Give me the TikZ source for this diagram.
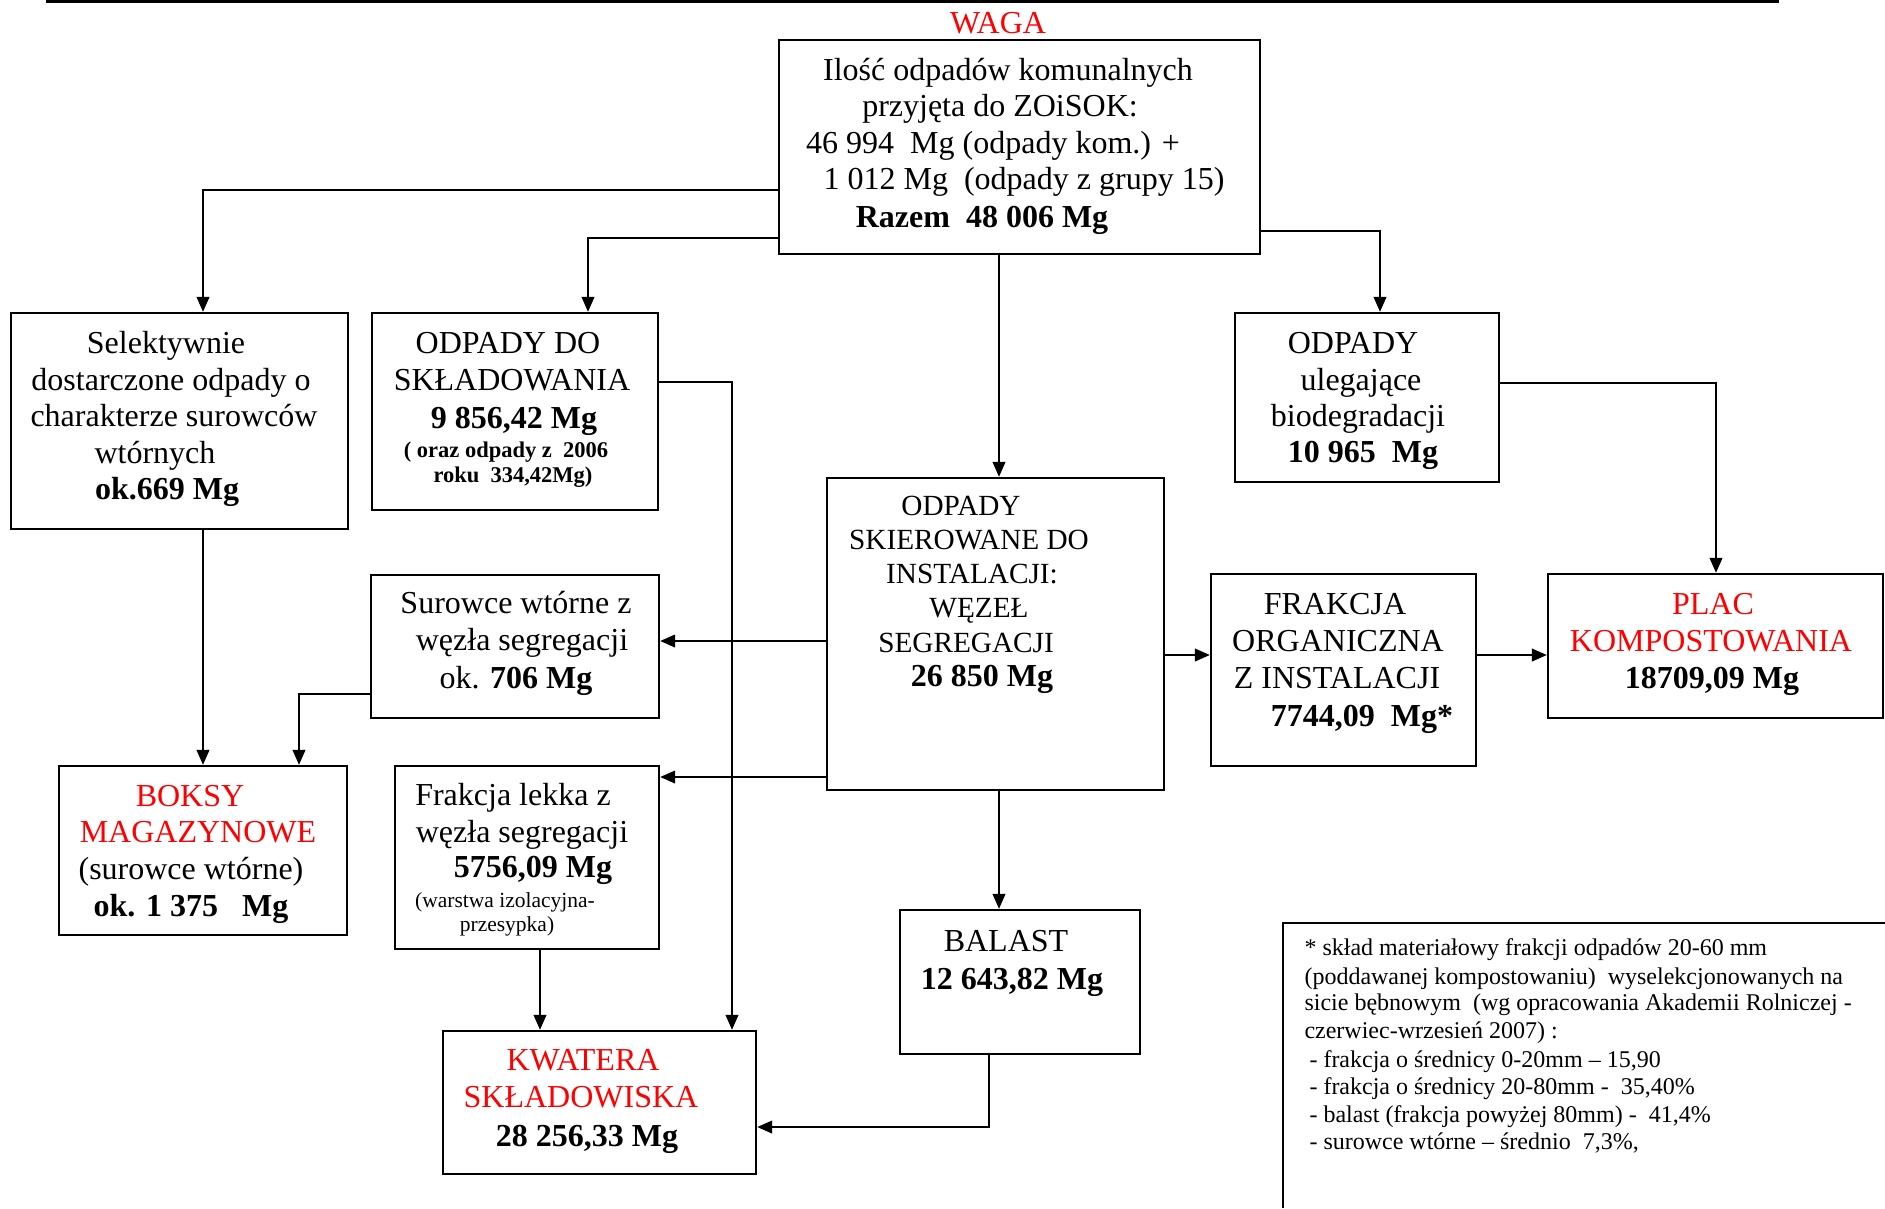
\documentclass[tikz,border=0pt]{standalone}
\usepackage{fontspec}
\setmainfont{Liberation Serif}
\usetikzlibrary{arrows.meta,fit}
\tikzset{
  box/.style={draw, line width=0.9pt, inner sep=0pt},
  txt/.style={anchor=base, inner sep=0pt, font=\fontsize{12.8}{14}\selectfont},
  stxt/.style={anchor=base, inner sep=0pt, font=\fontsize{11.7}{13}\selectfont},
  smalltxt/.style={anchor=base, inner sep=0pt, font=\fontsize{9}{10}\selectfont},
  lighttxt/.style={anchor=base, inner sep=0pt, font=\fontsize{8.6}{10}\selectfont},
  note/.style={anchor=base west, inner sep=0pt, font=\fontsize{9.6}{11}\selectfont},
  redtxt/.style={text=red},
  conn/.style={line width=0.9pt},
  arr/.style={conn, -{Triangle[length=6pt,width=5pt]}},
}
\begin{document}
\begin{tikzpicture}[x=0.4pt,y=-0.4pt]
\useasboundingbox (0,0) rectangle (1885,1208);
\fill[black] (46,0) rectangle (1779,2.5);

% boxes
\node[box, fit={(779,40) (1260,254)}] (top) {};
\node[box, fit={(11,313) (348,529)}] (sel) {};
\node[box, fit={(372,313) (658,510)}] (skl) {};
\node[box, fit={(1235,313) (1499,482)}] (ul) {};
\node[box, fit={(827,478) (1164,790)}] (ins) {};
\node[box, fit={(371,575) (659,718)}] (sur) {};
\node[box, fit={(1211,574) (1476,766)}] (fo) {};
\node[box, fit={(1548,574) (1883,718)}] (plac) {};
\node[box, fit={(59,766) (347,935)}] (boks) {};
\node[box, fit={(395,766) (659,949)}] (fl) {};
\node[box, fit={(900,910) (1140,1054)}] (bal) {};
\node[box, fit={(443,1031) (756,1174)}] (kw) {};
\draw[conn] (1283,1208) -- (1283,923) -- (1885,923);

% texts
\node[txt,redtxt] (waga) at (998,33) {WAGA};

\node[txt] (t1) at (1008,80) {Ilość odpadów komunalnych};
\node[txt] (t2) at (1000,116) {przyjęta do ZOiSOK:};
\node[txt] (t3) at (993,153) {46 994\ \ Mg (odpady kom.) +};
\node[txt] (t4) at (1024,189) {1 012 Mg\ \ (odpady z grupy 15)};
\node[txt] (t5) at (982,227) {\textbf{Razem\ \ 48 006 Mg}};

\node[txt] (s1) at (166,353) {Selektywnie};
\node[txt] (s2) at (171,390) {dostarczone odpady o};
\node[txt] (s3) at (174,426) {charakterze surowców};
\node[txt] (s4) at (155,463) {wtórnych};
\node[txt] (s5) at (167,499) {\textbf{ok.669 Mg}};

\node[txt] (k1) at (508,353) {ODPADY DO};
\node[txt] (k2) at (512,390) {SKŁADOWANIA};
\node[txt] (k3) at (514,428) {\textbf{9 856,42 Mg}};
\node[smalltxt] (k4) at (506,457) {\textbf{( oraz odpady z\ \ 2006}};
\node[smalltxt] (k5) at (513,482) {\textbf{roku\ \ 334,42Mg)}};

\node[txt] (u1) at (1353,353) {ODPADY};
\node[txt] (u2) at (1361,390) {ulegające};
\node[txt] (u3) at (1358,426) {biodegradacji};
\node[txt] (u4) at (1363,462) {\textbf{10 965\ \ Mg}};

\node[stxt] (i1) at (961,515) {ODPADY};
\node[stxt] (i2) at (969,549) {SKIEROWANE DO};
\node[stxt] (i3) at (972,583) {INSTALACJI:};
\node[stxt] (i4) at (979,617) {WĘZEŁ};
\node[stxt] (i5) at (966,652) {SEGREGACJI};
\node[txt] (i6) at (982,686) {\textbf{26 850 Mg}};

\node[txt] (r1) at (516,613) {Surowce wtórne z};
\node[txt] (r2) at (522,650) {węzła segregacji};
\node[txt] (r3) at (516,688) {ok. \textbf{706 Mg}};

\node[txt] (o1) at (1335,614) {FRAKCJA};
\node[txt] (o2) at (1338,651) {ORGANICZNA};
\node[txt] (o3) at (1337,688) {Z INSTALACJI};
\node[txt] (o4) at (1362,726) {\textbf{7744,09\ \ Mg*}};

\node[txt,redtxt] (c1) at (1713,614) {PLAC};
\node[txt,redtxt] (c2) at (1711,651) {KOMPOSTOWANIA};
\node[txt] (c3) at (1712,688) {\textbf{18709,09 Mg}};

\node[txt,redtxt] (b1) at (190,806) {BOKSY};
\node[txt,redtxt] (b2) at (198,842) {MAGAZYNOWE};
\node[txt] (b3) at (191,879) {(surowce wtórne)};
\node[txt] (b4) at (191,916) {\textbf{ok. 1 375\ \ \ Mg}};

\node[txt] (f1) at (513,805) {Frakcja lekka z};
\node[txt] (f2) at (522,842) {węzła segregacji};
\node[txt] (f3) at (533,877) {\textbf{5756,09 Mg}};
\node[lighttxt] (f4) at (505,907) {(warstwa izolacyjna-};
\node[lighttxt] (f5) at (507,931) {przesypka)};

\node[txt] (a1) at (1006,951) {BALAST};
\node[txt] (a2) at (1012,989) {\textbf{12 643,82 Mg}};

\node[txt,redtxt] (w1) at (583,1070) {KWATERA};
\node[txt,redtxt] (w2) at (581,1107) {SKŁADOWISKA};
\node[txt] (w3) at (587,1146) {\textbf{28 256,33 Mg}};

\node[note] (n1) at (1304,955) {* skład materiałowy frakcji odpadów 20-60 mm};
\node[note] (n2) at (1304,984) {(poddawanej kompostowaniu)\ \ wyselekcjonowanych na};
\node[note] (n3) at (1304,1010) {sicie bębnowym\ \ (wg opracowania Akademii Rolniczej -};
\node[note] (n4) at (1304,1038) {czerwiec-wrzesień 2007) :};
\node[note] (n5) at (1309,1067) {- frakcja o średnicy 0-20mm – 15,90};
\node[note] (n6) at (1309,1094) {- frakcja o średnicy 20-80mm -\ \ 35,40\%};
\node[note] (n7) at (1309,1122) {- balast (frakcja powyżej 80mm) -\ \ 41,4\%};
\node[note] (n8) at (1309,1149) {- surowce wtórne – średnio\ \ 7,3\%,};

% connectors
\coordinate (p1) at (203,190);
\draw[arr] (top.west |- p1) -| (p1 |- sel.north);
\coordinate (p2) at (588,238);
\draw[arr] (top.west |- p2) -| (p2 |- skl.north);
\coordinate (p3) at (999,0);
\draw[arr] (p3 |- top.south) -- (p3 |- ins.north);
\coordinate (p4) at (1380,231);
\draw[arr] (top.east |- p4) -| (p4 |- ul.north);
\coordinate (p5) at (1716,383);
\draw[arr] (ul.east |- p5) -| (p5 |- plac.north);
\coordinate (p6) at (732,382);
\draw[arr] (skl.east |- p6) -| (p6 |- kw.north);
\coordinate (p7) at (0,641);
\draw[arr] (ins.west |- p7) -- (sur.east |- p7);
\coordinate (p8) at (0,777);
\draw[arr] (ins.west |- p8) -- (fl.east |- p8);
\coordinate (p9) at (0,655);
\draw[arr] (ins.east |- p9) -- (fo.west |- p9);
\draw[arr] (fo.east |- p9) -- (plac.west |- p9);
\draw[arr] (p3 |- ins.south) -- (p3 |- bal.north);
\coordinate (p12) at (989,1127);
\draw[arr] (p12 |- bal.south) |- (kw.east |- p12);
\coordinate (p13) at (203,0);
\draw[arr] (p13 |- sel.south) -- (p13 |- boks.north);
\coordinate (p14) at (299,694);
\draw[arr] (sur.west |- p14) -| (p14 |- boks.north);
\coordinate (p15) at (540,0);
\draw[arr] (p15 |- fl.south) -- (p15 |- kw.north);
\end{tikzpicture}
\end{document}
